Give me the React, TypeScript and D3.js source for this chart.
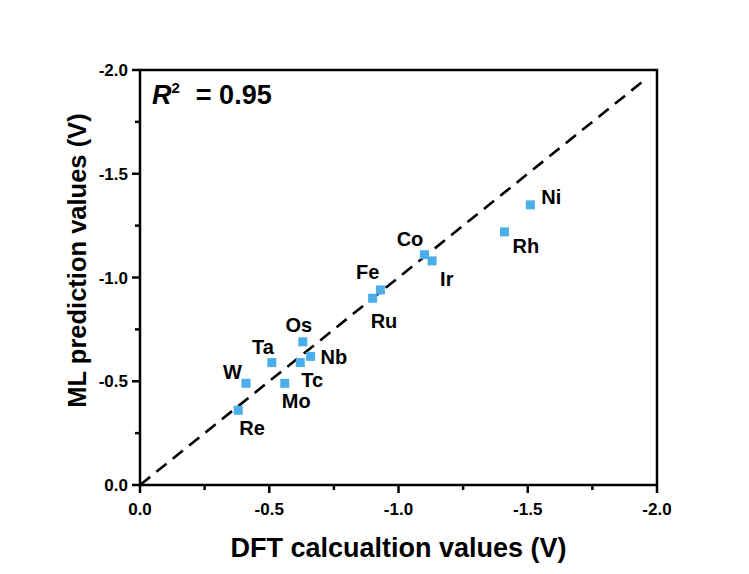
import * as d3 from "d3";

const elements = ["Re", "W", "Ta", "Mo", "Tc", "Nb", "Os", "Ru", "Fe", "Co", "Ir", "Rh", "Ni"];
const dftValues = [-0.38, -0.41, -0.51, -0.56, -0.62, -0.66, -0.63, -0.9, -0.93, -1.1, -1.13, -1.41, -1.51];
const mlValues = [-0.36, -0.49, -0.59, -0.49, -0.59, -0.62, -0.69, -0.9, -0.94, -1.11, -1.08, -1.22, -1.35];
const majorTicks = [0, -0.5, -1.0, -1.5, -2.0];
const minorTicks = [-0.25, -0.75, -1.25, -1.75];

// label placement: [anchor, dx, dy] relative to the marker
const labelPos: Record<string, [string, number, number]> = {
  Re: ["start", 1, 25],
  W: ["end", -4, -4],
  Ta: ["end", 2, -9],
  Mo: ["start", -3, 25],
  Tc: ["start", 1, 24],
  Nb: ["start", 10, 8],
  Os: ["middle", -4, -10],
  Ru: ["start", -2, 30],
  Fe: ["end", -1, -11],
  Co: ["end", -1, -9],
  Ir: ["start", 8, 25],
  Rh: ["start", 8, 21],
  Ni: ["start", 11, -1],
};

const W = 749;
const H = 574;
const left = 140;
const right = 657;
const top = 70;
const bottom = 485;
const font = "Arial, 'Liberation Sans', sans-serif";

export default function App() {
  const x = d3.scaleLinear().domain([0, -2]).range([left, right]);
  const y = d3.scaleLinear().domain([0, -2]).range([bottom, top]);
  const tickLabel = (v: number) => (v === 0 ? "0.0" : d3.format(".1f")(v).replace("\u2212", "-"));
  const ms = 9;

  return (
    <svg
      width={W}
      height={H}
      style={{ position: "absolute", left: 0, top: 0, background: "#fff" }}
      fontFamily={font}
    >
      <rect width={W} height={H} fill="#fff" />

      {/* diagonal reference */}
      <line
        x1={x(0)}
        y1={y(0)}
        x2={x(-1.95)}
        y2={y(-1.95)}
        stroke="#000"
        strokeWidth={2.6}
        strokeDasharray="13 8"
      />

      {/* points */}
      {elements.map((el, i) => (
        <rect
          key={el}
          x={x(dftValues[i]) - ms / 2}
          y={y(mlValues[i]) - ms / 2}
          width={ms}
          height={ms}
          fill="#4aaee9"
        />
      ))}

      {/* labels */}
      {elements.map((el, i) => {
        const [anchor, dx, dy] = labelPos[el];
        return (
          <text
            key={el + "-lbl"}
            x={x(dftValues[i]) + dx}
            y={y(mlValues[i]) + dy}
            textAnchor={anchor}
            fontSize={20}
            fontWeight="bold"
          >
            {el}
          </text>
        );
      })}

      {/* frame */}
      <rect
        x={left}
        y={top}
        width={right - left}
        height={bottom - top}
        fill="none"
        stroke="#000"
        strokeWidth={2.5}
      />

      {/* x ticks */}
      {majorTicks.map((t) => (
        <g key={"xt" + t}>
          <line x1={x(t)} x2={x(t)} y1={bottom} y2={bottom + 8} stroke="#000" strokeWidth={2.5} />
          <text x={x(t)} y={bottom + 30} textAnchor="middle" fontSize={17} fontWeight="bold">
            {tickLabel(t)}
          </text>
        </g>
      ))}
      {minorTicks.map((t) => (
        <line key={"xm" + t} x1={x(t)} x2={x(t)} y1={bottom} y2={bottom + 5} stroke="#000" strokeWidth={2.5} />
      ))}

      {/* y ticks */}
      {majorTicks.map((t) => (
        <g key={"yt" + t}>
          <line x1={left - 8} x2={left} y1={y(t)} y2={y(t)} stroke="#000" strokeWidth={2.5} />
          <text x={left - 12} y={y(t) + 6} textAnchor="end" fontSize={17} fontWeight="bold">
            {tickLabel(t)}
          </text>
        </g>
      ))}
      {minorTicks.map((t) => (
        <line key={"ym" + t} x1={left - 5} x2={left} y1={y(t)} y2={y(t)} stroke="#000" strokeWidth={2.5} />
      ))}

      {/* R² annotation */}
      <text x={152} y={104} fontSize={27} fontWeight="bold">
        <tspan fontStyle="italic">R</tspan>
        <tspan fontSize={15} dy={-11}>2</tspan>
        <tspan dx={16} dy={11}>= 0.95</tspan>
      </text>

      {/* axis titles */}
      <text x={(left + right) / 2} y={557} textAnchor="middle" fontSize={27} fontWeight="bold">
        DFT calcualtion values (V)
      </text>
      <text
        transform={`translate(86, ${(top + bottom) / 2 - 17}) rotate(-90)`}
        textAnchor="middle"
        fontSize={25.5}
        fontWeight="bold"
      >
        ML prediction values (V)
      </text>
    </svg>
  );
}
